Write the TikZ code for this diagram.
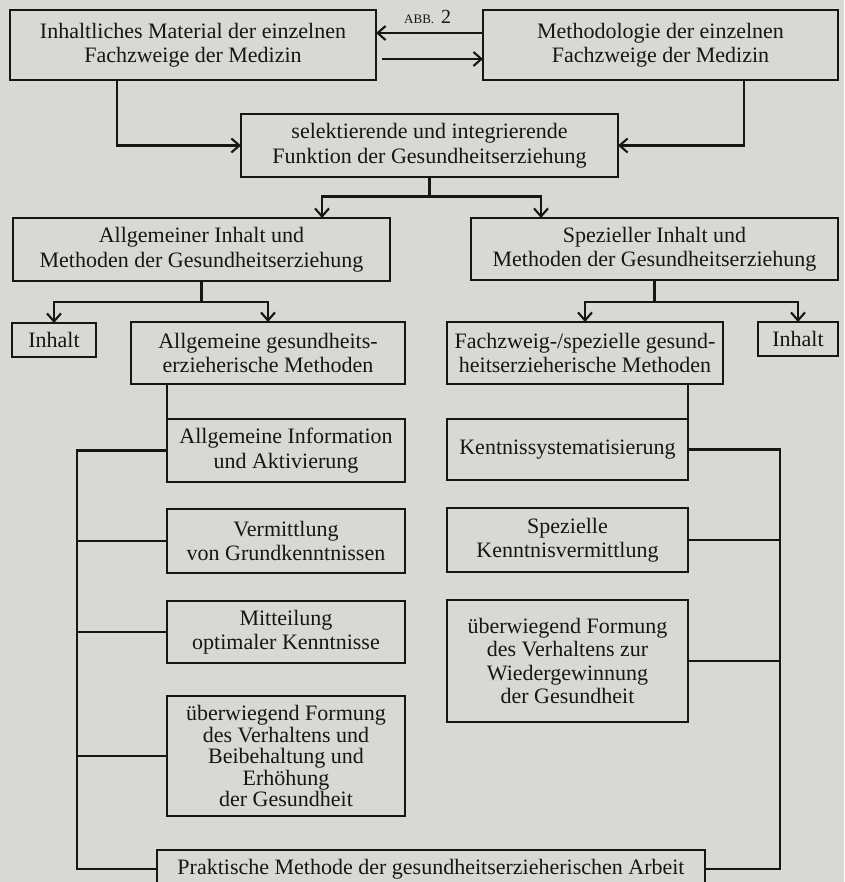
\documentclass[tikz,border=0pt]{standalone}
\usepackage{fontspec}
\setmainfont{Liberation Serif}
\usetikzlibrary{arrows.meta}
\definecolor{paper}{RGB}{216,216,213}
\definecolor{ink}{RGB}{22,22,22}
\begin{document}
\begin{tikzpicture}[x=1pt,y=-1pt,
  box/.style={draw=ink, line width=2.3pt, inner sep=0pt, outer sep=0pt, align=center, text=ink,
              font=\fontsize{22}{24.5}\selectfont},
  wire/.style={draw=ink, line width=2.1pt},
  arr/.style={wire, -{Straight Barb[length=8pt,width=14pt]}}]
\useasboundingbox (0,0) rectangle (844,882);
\clip (0,0) rectangle (844,882);
\fill[paper] (0,0) rectangle (844,882);

% top row
\node[box, minimum width=366pt, minimum height=70pt] (tl) at (193,45)
  {Inhaltliches Material der einzelnen\\Fachzweige der Medizin};
\node[box, minimum width=355pt, minimum height=70pt] (tr) at (660.5,45)
  {Methodologie der einzelnen\\Fachzweige der Medizin};
\node[anchor=base west, inner sep=0pt, text=ink] (abb) at (404,24)
  {\fontsize{13}{13}\selectfont ABB.\hspace{7pt}\fontsize{20}{20}\selectfont 2};

% centre
\node[box, minimum width=377pt, minimum height=63pt] (cen) at (429.5,145.5)
  {selektierende und integrierende\\Funktion der Gesundheitserziehung};

% second level
\node[box, minimum width=377pt, minimum height=63pt] (lm) at (201.5,249.5)
  {Allgemeiner Inhalt und\\Methoden der Gesundheitserziehung};
\node[box, minimum width=367pt, minimum height=62pt] (rm) at (654.5,249)
  {Spezieller Inhalt und\\Methoden der Gesundheitserziehung};

% third level
\node[box, minimum width=84pt, minimum height=34pt] (inhL) at (54,340) {Inhalt};
\node[box, minimum width=274pt, minimum height=62pt] (allgM) at (268,353)
  {Allgemeine gesundheits-\\erzieherische Methoden};
\node[box, minimum width=276pt, minimum height=62pt] (fach) at (585,353)
  {Fachzweig-/spezielle gesund-\\heitserzieherische Methoden};
\node[box, minimum width=80pt, minimum height=34pt] (inhR) at (798,339) {Inhalt};

% left column
\node[box, minimum width=238pt, minimum height=63pt] (L1) at (286,450.5)
  {Allgemeine Information\\und Aktivierung};
\node[box, minimum width=238pt, minimum height=64pt] (L2) at (286,541)
  {Vermittlung\\von Grundkenntnissen};
\node[box, minimum width=238pt, minimum height=62pt] (L3) at (286,632)
  {Mitteilung\\optimaler Kenntnisse};
\node[box, minimum width=238pt, minimum height=120pt, font=\fontsize{22}{21.5}\selectfont] (L4) at (286,756)
  {überwiegend Formung\\des Verhaltens und\\Beibehaltung und\\Erhöhung\\der Gesundheit};

% right column
\node[box, minimum width=241pt, minimum height=61pt] (R1) at (567.5,449.5)
  {Kentnissystematisierung};
\node[box, minimum width=241pt, minimum height=64pt] (R2) at (567.5,540)
  {Spezielle\\Kenntnisvermittlung};
\node[box, minimum width=241pt, minimum height=122pt, font=\fontsize{22}{23.5}\selectfont] (R3) at (567.5,661)
  {überwiegend Formung\\des Verhaltens zur\\Wiedergewinnung\\der Gesundheit};

% bottom
\node[box, minimum width=548pt, minimum height=38pt] (prak) at (431,869)
  {Praktische Methode der gesundheitserzieherischen Arbeit};

% connectors top
\draw[arr] ([yshift=12pt]tr.west) -- ([yshift=12pt]tl.east);
\draw[arr] ([xshift=6pt,yshift=-14pt]tl.east) -- ([yshift=-14pt]tr.west);
\draw[arr] ([xshift=-76pt]tl.south) |- (cen.west);
\draw[arr] ([xshift=83.5pt]tr.south) |- (cen.east);

% centre to second level
\path (cen.south) ++(0,19.5) coordinate (j1);
\draw[wire] (cen.south) -- (j1);
\draw[arr] (j1) -| ([xshift=120.5pt]lm.north);
\draw[arr] (j1) -| ([xshift=-113.5pt]rm.north);

% second to third level
\path (lm.south) ++(0,21) coordinate (j2);
\draw[wire] (lm.south) -- (j2);
\draw[arr] (j2) -| (inhL.north);
\draw[arr] (j2) -| (allgM.north);
\path (rm.south) ++(0,22) coordinate (j3);
\draw[wire] (rm.south) -- (j3);
\draw[arr] (j3) -| (fach.north);
\draw[arr] (j3) -| (inhR.north);

% into the columns
\draw[wire] (allgM.south -| L1.north west) -- (L1.north west);
\draw[wire] (fach.south -| R1.north east) -- (R1.north east);

% left bracket
\path (prak.west -| 77,0) coordinate (bl);
\draw[wire] (L1.west) -| (bl) -- (prak.west);
\draw[wire] (L2.west) -- (L2.west -| bl);
\draw[wire] (L3.west) -- (L3.west -| bl);
\draw[wire] (L4.west) -- (L4.west -| bl);

% right bracket
\path (prak.east -| 780,0) coordinate (br);
\draw[wire] (R1.east) -| (br) -- (prak.east);
\draw[wire] (R2.east) -- (R2.east -| br);
\draw[wire] (R3.east) -- (R3.east -| br);
\end{tikzpicture}
\end{document}
